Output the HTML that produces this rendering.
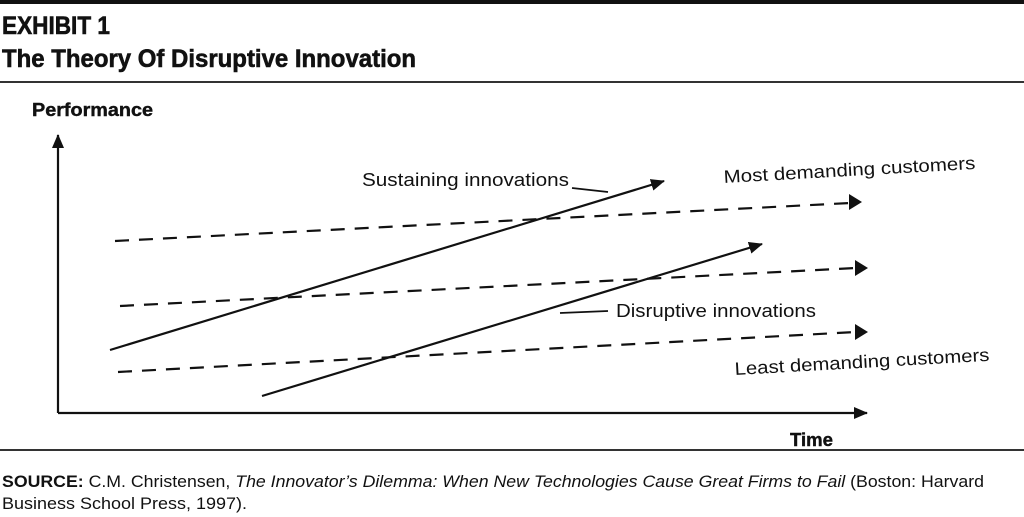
<!DOCTYPE html>
<html><head><meta charset="utf-8"><style>
html,body{margin:0;padding:0;background:#fff;width:1024px;height:517px;overflow:hidden}
text{font-family:"Liberation Sans",sans-serif;fill:#111}
</style></head><body>
<svg width="1024" height="517" viewBox="0 0 1024 517" xmlns="http://www.w3.org/2000/svg">
<defs>
<marker id="ah2" markerWidth="14" markerHeight="12" refX="13" refY="6" orient="auto" markerUnits="userSpaceOnUse">
<path d="M0,0 L14,6 L0,12 z" fill="#111"/></marker>
</defs>
<rect x="0" y="0" width="1024" height="4" fill="#111"/>
<text x="2" y="34" font-size="25" font-weight="bold" textLength="108" lengthAdjust="spacingAndGlyphs" stroke="#111" stroke-width="0.6">EXHIBIT 1</text>
<text x="2" y="67" font-size="25" font-weight="bold" textLength="414" lengthAdjust="spacingAndGlyphs" stroke="#111" stroke-width="0.6">The Theory Of Disruptive Innovation</text>
<rect x="0" y="81" width="1024" height="2" fill="#333"/>
<text x="32" y="116" font-size="18" font-weight="bold" textLength="121" lengthAdjust="spacingAndGlyphs" stroke="#111" stroke-width="0.4">Performance</text>
<line x1="58" y1="413" x2="58" y2="135" stroke="#111" stroke-width="2.2" marker-end="url(#ah2)"/>
<line x1="58" y1="413" x2="867" y2="413" stroke="#111" stroke-width="2.2" marker-end="url(#ah2)"/>
<g stroke="#111" stroke-width="2.2" stroke-dasharray="14,10">
<line x1="115" y1="241" x2="850" y2="203"/>
<line x1="120" y1="306" x2="856" y2="268"/>
<line x1="118" y1="372" x2="856" y2="332"/>
</g>
<path d="M849,194 L862,202 L849,210 z" fill="#111"/>
<path d="M855,260 L868,268 L855,276 z" fill="#111"/>
<path d="M855,324 L868,332 L855,340 z" fill="#111"/>
<line x1="110" y1="350" x2="664" y2="181" stroke="#111" stroke-width="2.2" marker-end="url(#ah2)"/>
<line x1="262" y1="396" x2="762" y2="244" stroke="#111" stroke-width="2.2" marker-end="url(#ah2)"/>
<text x="362" y="186" font-size="18" textLength="207" lengthAdjust="spacingAndGlyphs">Sustaining innovations</text>
<line x1="572" y1="188" x2="608" y2="192" stroke="#111" stroke-width="1.8"/>
<text x="724" y="183" font-size="18" transform="rotate(-3.2 724 183)" textLength="252" lengthAdjust="spacingAndGlyphs">Most demanding customers</text>
<text x="616" y="317" font-size="18" textLength="200" lengthAdjust="spacingAndGlyphs">Disruptive innovations</text>
<line x1="560" y1="313" x2="608" y2="311" stroke="#111" stroke-width="1.8"/>
<text x="735" y="375" font-size="18" transform="rotate(-3.2 735 375)" textLength="255" lengthAdjust="spacingAndGlyphs">Least demanding customers</text>
<text x="790" y="446" font-size="18" font-weight="bold" textLength="43" lengthAdjust="spacingAndGlyphs" stroke="#111" stroke-width="0.4">Time</text>
<rect x="0" y="449" width="1024" height="2" fill="#333"/>
<text x="2" y="487" font-size="17" textLength="982" lengthAdjust="spacingAndGlyphs"><tspan font-weight="bold">SOURCE:</tspan> C.M. Christensen, <tspan font-style="italic">The Innovator’s Dilemma: When New Technologies Cause Great Firms to Fail</tspan> (Boston: Harvard</text>
<text x="2" y="509" font-size="17" textLength="245" lengthAdjust="spacingAndGlyphs">Business School Press, 1997).</text>
</svg>
</body></html>
